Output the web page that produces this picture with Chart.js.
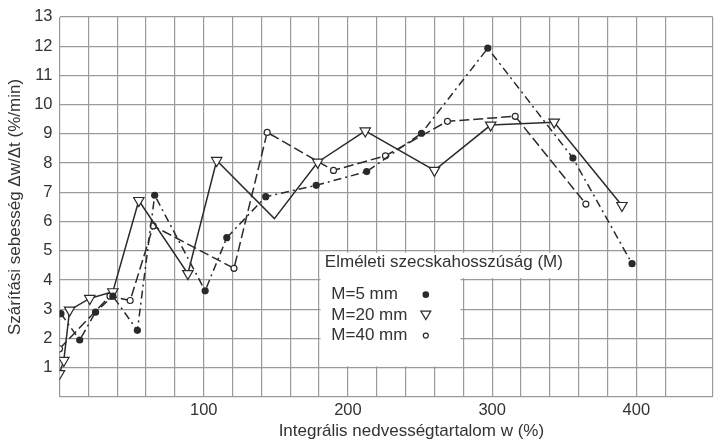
<!DOCTYPE html>
<html>
<head>
<meta charset="utf-8">
<script src="https://cdn.jsdelivr.net/npm/chart.js@4"></script>
<style>
  html, body { margin: 0; padding: 0; background: #fff; }
  #c { display: block; }
</style>
</head>
<body>
<canvas id="c" width="720" height="441" style="width:720px;height:441px"></canvas>
<script>
// Drying rate vs. integral moisture content for three theoretical chop lengths
const m5X  = [1, 14, 25, 37, 54, 66, 101, 116, 143, 178, 213, 251, 297, 356, 397];
const m5Y  = [2.85, 1.95, 2.9, 3.45, 2.28, 6.9, 3.63, 5.45, 6.85, 7.24, 7.71, 9.02, 11.93, 8.17, 4.56];

const m20X = [0, 3, 7, 21, 37, 55, 89, 109, 149, 179, 212, 260, 299, 343, 390];
const m20Y = [0.8, 1.25, 2.97, 3.37, 3.6, 6.72, 4.22, 8.09, 6.1, 8.03, 9.1, 7.75, 9.3, 9.4, 6.55];

const m40X = [0, 35, 49, 65, 121, 144, 190, 226, 269, 316, 365];
const m40Y = [1.65, 3.45, 3.3, 5.85, 4.4, 9.05, 7.75, 8.25, 9.43, 9.6, 6.6];

const seriesLabels = ['M=5 mm', 'M=20 mm', 'M=40 mm'];
const legendTitle = 'Elméleti szecskahosszúság (M)';
const xTitle = 'Integrális nedvességtartalom w (%)';
const yTitle = 'Szárítási sebesség Δw/Δt (%/min)';

const FONT = 'Liberation Sans, Arial, sans-serif';
const INK = '#2a2a2a';
const TEXT = '#333';

const pts = (xs, ys) => xs.map((x, i) => ({ x, y: ys[i] }));

// Legend panel drawn inside the plot, over the grid
const legendPanel = {
  id: 'legendPanel',
  beforeDatasetsDraw(chart) {
    const { ctx, scales: { x, y } } = chart;
    const px = v => x.getPixelForValue(v);
    const py = v => y.getPixelForValue(v);
    ctx.save();
    ctx.fillStyle = '#fff';
    ctx.fillRect(px(181), py(4.93), px(359) - px(181), py(4.07) - py(4.93));
    ctx.fillRect(px(181), py(4.93), px(278) - px(181), py(1.05) - py(4.93));

    ctx.fillStyle = TEXT;
    ctx.font = '17px ' + FONT;
    ctx.textBaseline = 'middle';
    ctx.textAlign = 'left';
    ctx.fillText(legendTitle, px(184), py(4.6));

    const rows = [3.5, 2.8, 2.1];
    seriesLabels.forEach((lab, i) => ctx.fillText(lab, px(188.5), py(rows[i])));

    const mx = px(254);
    ctx.strokeStyle = INK;
    ctx.lineWidth = 1.2;
    // filled dot
    ctx.beginPath();
    ctx.fillStyle = INK;
    ctx.arc(mx, py(rows[0]), 3.3, 0, Math.PI * 2);
    ctx.fill();
    // open down-pointing triangle
    const ty = py(rows[1]);
    ctx.beginPath();
    ctx.moveTo(mx - 5, ty - 4);
    ctx.lineTo(mx + 5, ty - 4);
    ctx.lineTo(mx, ty + 4.5);
    ctx.closePath();
    ctx.fillStyle = '#fff';
    ctx.fill();
    ctx.stroke();
    // small open circle
    ctx.beginPath();
    ctx.arc(mx, py(rows[2]), 2.5, 0, Math.PI * 2);
    ctx.stroke();
    ctx.restore();
  },
  afterDraw(chart) {
    const { ctx, chartArea } = chart;
    ctx.save();
    ctx.fillStyle = TEXT;
    ctx.font = '17px ' + FONT;
    ctx.textAlign = 'center';
    ctx.textBaseline = 'middle';
    ctx.fillText(xTitle, chart.scales.x.getPixelForValue(244), chartArea.bottom + 34.5);
    ctx.restore();
  }
};

const m20Radius = m20X.map((_, i) => (i === 8 ? 0 : 6));

new Chart(document.getElementById('c'), {
  type: 'line',
  data: {
    datasets: [
      {
        label: seriesLabels[0],
        data: pts(m5X, m5Y),
        borderColor: INK,
        borderWidth: 1.5,
        borderDash: [8, 4, 2, 4],
        pointStyle: 'circle',
        pointRadius: 3.6,
        pointBackgroundColor: INK,
        pointBorderColor: INK,
        pointBorderWidth: 0,
        tension: 0,
        fill: false
      },
      {
        label: seriesLabels[1],
        data: pts(m20X, m20Y),
        borderColor: INK,
        borderWidth: 1.5,
        pointStyle: 'triangle',
        pointRotation: 180,
        pointRadius: m20Radius,
        pointBackgroundColor: '#fff',
        pointBorderColor: INK,
        pointBorderWidth: 1.2,
        tension: 0,
        fill: false
      },
      {
        label: seriesLabels[2],
        data: pts(m40X, m40Y),
        borderColor: INK,
        borderWidth: 1.5,
        borderDash: [10, 4],
        pointStyle: 'circle',
        pointRadius: 3,
        pointBackgroundColor: '#fff',
        pointBorderColor: INK,
        pointBorderWidth: 1.2,
        tension: 0,
        fill: false
      }
    ]
  },
  options: {
    responsive: false,
    animation: false,
    devicePixelRatio: 1,
    layout: { padding: { top: 16, right: 0, left: 0, bottom: 0 } },
    plugins: {
      legend: { display: false },
      tooltip: { enabled: false }
    },
    scales: {
      x: {
        type: 'linear',
        min: 0,
        max: 453,
        afterFit(s) { s.height = 44; },
        border: { display: false },
        grid: { color: '#9a9a9a', lineWidth: 1.2, drawTicks: false },
        ticks: {
          stepSize: 20,
          autoSkip: false,
          maxRotation: 0,
          padding: 4,
          color: TEXT,
          font: { family: FONT, size: 16.5 },
          callback: v => (v > 0 && v % 100 === 0) ? String(v) : ''
        }
      },
      y: {
        type: 'linear',
        min: 0,
        max: 13,
        afterFit(s) { s.width = 59.5; },
        border: { display: false },
        grid: { color: '#9a9a9a', lineWidth: 1.2, drawTicks: false },
        ticks: {
          stepSize: 1,
          autoSkip: false,
          padding: 7,
          color: TEXT,
          font: { family: FONT, size: 16.5 },
          callback: v => (v === 0 ? '' : String(v))
        },
        title: {
          display: true,
          text: yTitle,
          color: TEXT,
          font: { family: FONT, size: 17 },
          padding: { top: 5, bottom: 0 }
        }
      }
    }
  },
  plugins: [legendPanel]
});
</script>
</body>
</html>
